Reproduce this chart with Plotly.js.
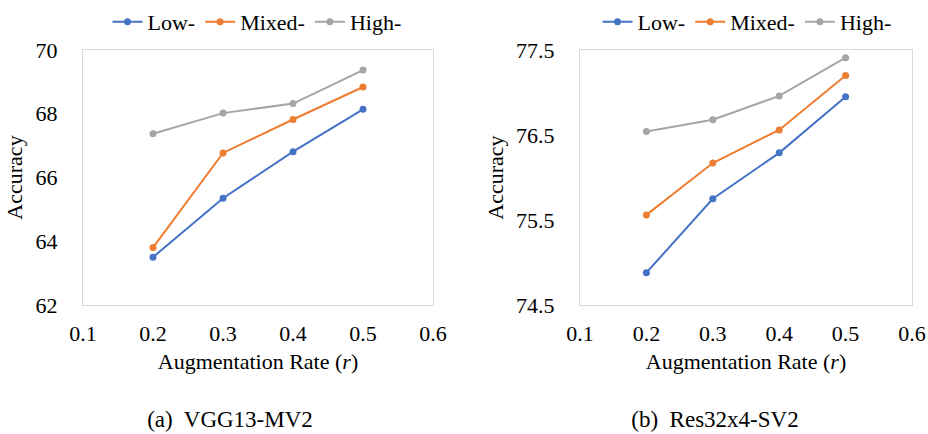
<!DOCTYPE html>
<html>
<head>
<meta charset="utf-8">
<script src="https://cdn.plot.ly/plotly-3.0.1.min.js"></script>
</head>
<body style="margin:0;padding:0;background:#fff;">
<div id="wrap" style="position:relative;width:928px;height:434px;">
<div id="capA" style="position:absolute;left:80px;width:300px;top:405px;text-align:center;font-family:'Liberation Serif';font-size:23px;line-height:30px;white-space:pre;color:#000;"></div>
<div id="capB" style="position:absolute;left:565px;width:300px;top:405px;text-align:center;font-family:'Liberation Serif';font-size:23px;line-height:30px;white-space:pre;color:#000;"></div>
<div id="chart" style="position:absolute;left:0;top:0;width:928px;height:400px;"></div>
</div>
<script>
const rates = [0.2, 0.3, 0.4, 0.5];
const seriesNames = ['Low-', 'Mixed-', 'High-'];
const seriesColors = ['#4472C4', '#ED7D31', '#A5A5A5'];

// (a) VGG13-MV2
const vggLow   = [63.50, 65.35, 66.81, 68.14];
const vggMixed = [63.80, 66.77, 67.82, 68.84];
const vggHigh  = [67.37, 68.02, 68.32, 69.37];

// (b) Res32x4-SV2
const resLow   = [74.88, 75.75, 76.29, 76.95];
const resMixed = [75.56, 76.17, 76.56, 77.20];
const resHigh  = [76.54, 76.68, 76.96, 77.41];

const xTicks = [0.1, 0.2, 0.3, 0.4, 0.5, 0.6];
const yTicksA = [62, 64, 66, 68, 70];
const yTicksB = [74.5, 75.5, 76.5, 77.5];
const captions = ['(a)  VGG13-MV2', '(b)  Res32x4-SV2'];

document.getElementById('capA').textContent = captions[0];
document.getElementById('capB').textContent = captions[1];

const FONT = 'Liberation Serif';

function mk(y, i, xa, ya, leg) {
  return {
    x: rates, y: y, name: seriesNames[i], type: 'scatter', mode: 'lines+markers',
    xaxis: xa, yaxis: ya, legend: leg,
    line: {color: seriesColors[i], width: 2},
    marker: {color: seriesColors[i], size: 7}
  };
}

const data = [
  mk(vggLow, 0, 'x', 'y', 'legend'),
  mk(vggMixed, 1, 'x', 'y', 'legend'),
  mk(vggHigh, 2, 'x', 'y', 'legend'),
  mk(resLow, 0, 'x2', 'y2', 'legend2'),
  mk(resMixed, 1, 'x2', 'y2', 'legend2'),
  mk(resHigh, 2, 'x2', 'y2', 'legend2')
];

const W = 928, H = 400;
const yDom = [(H - 305) / H, (H - 50) / H];

function xax(dom, anchor) {
  return {
    domain: dom, anchor: anchor, range: [0.1, 0.6], tickvals: xTicks,
    ticktext: xTicks.map(v => v.toFixed(1)),
    showgrid: false, zeroline: false, showline: true, mirror: true,
    linecolor: '#d9d9d9', linewidth: 1, ticks: '', ticklabelstandoff: 9,
    tickfont: {family: FONT, size: 22, color: '#000'},
    title: {text: 'Augmentation Rate (<i>r</i>)', font: {family: FONT, size: 22, color: '#000'}, standoff: 8},
    fixedrange: true
  };
}
function yax(range, ticks, anchor) {
  return {
    domain: yDom, anchor: anchor, range: range, tickvals: ticks,
    ticktext: ticks.map(v => (Number.isInteger(v) ? String(v) : v.toFixed(1))),
    showgrid: false, zeroline: false, showline: true, mirror: true,
    linecolor: '#d9d9d9', linewidth: 1, ticks: '', ticklabelstandoff: 20,
    tickfont: {family: FONT, size: 22, color: '#000'},
    title: {text: 'Accuracy', font: {family: FONT, size: 22, color: '#000'}, standoff: 6},
    fixedrange: true
  };
}

const legendBase = {
  orientation: 'h', yanchor: 'middle', y: 1 - 22 / H, xanchor: 'center',
  font: {family: FONT, size: 22, color: '#000'}, bgcolor: 'rgba(0,0,0,0)',
  itemwidth: 30, tracegroupgap: 0
};

const layout = {
  width: W, height: H,
  font: {family: FONT, size: 22, color: '#000'},
  margin: {l: 0, r: 0, t: 0, b: 0, autoexpand: false},
  paper_bgcolor: 'rgba(0,0,0,0)', plot_bgcolor: '#fff',
  showlegend: true,
  legend: Object.assign({}, legendBase, {x: 257 / W}),
  legend2: Object.assign({}, legendBase, {x: 747 / W}),
  xaxis: xax([83 / W, 433 / W], 'y'),
  yaxis: yax([62, 70], yTicksA, 'x'),
  xaxis2: xax([580 / W, 912 / W], 'y2'),
  yaxis2: yax([74.5, 77.5], yTicksB, 'x2')
};

Plotly.newPlot('chart', data, layout, {displayModeBar: false});
</script>
</body>
</html>
